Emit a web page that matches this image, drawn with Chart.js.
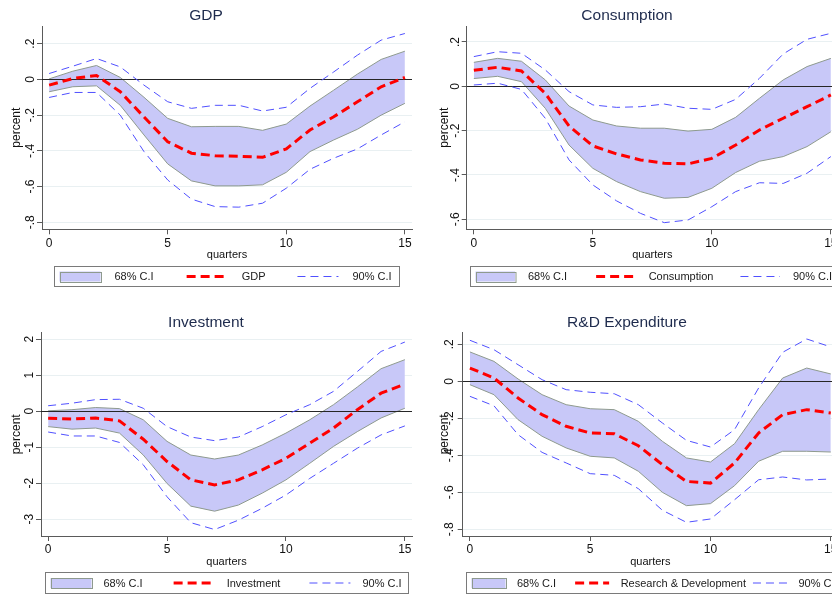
<!DOCTYPE html>
<html>
<head>
<meta charset="utf-8">
<script src="https://cdn.jsdelivr.net/npm/chart.js@4.4.1/dist/chart.umd.min.js"></script>
<style>
  html, body { margin: 0; padding: 0; background: #ffffff; width: 832px; height: 594px; overflow: hidden; position: relative; }
  canvas { position: absolute; }
</style>
</head>
<body>
<canvas id="gdp" width="416" height="297" style="left:0px;top:0px"></canvas>
<canvas id="cons" width="426" height="297" style="left:416px;top:0px"></canvas>
<canvas id="inv" width="416" height="297" style="left:0px;top:297px"></canvas>
<canvas id="rd" width="426" height="297" style="left:416px;top:297px"></canvas>
<script>
// Horizon in quarters
const quarters = [0, 1, 2, 3, 4, 5, 6, 7, 8, 9, 10, 11, 12, 13, 14, 15];
const xTickValues = [0, 5, 10, 15];

// y-axis ticks
const pctTickValues = [-0.8, -0.6, -0.4, -0.2, 0, 0.2];
const pctTickLabels = ['-.8', '-.6', '-.4', '-.2', '0', '.2'];
const consTickValues = [-0.6, -0.4, -0.2, 0, 0.2];
const consTickLabels = ['-.6', '-.4', '-.2', '0', '.2'];
const invTickValues = [-3, -2, -1, 0, 1, 2];
const invTickLabels = ['-3', '-2', '-1', '0', '1', '2'];

// GDP response
const gdpIrf  = [-0.032, 0.005, 0.022, -0.069, -0.210, -0.349, -0.413, -0.427, -0.430, -0.436, -0.389, -0.283, -0.209, -0.125, -0.041, 0.011];
const gdpHi68 = [0.003, 0.046, 0.078, 0.011, -0.100, -0.218, -0.265, -0.263, -0.263, -0.285, -0.250, -0.149, -0.060, 0.030, 0.112, 0.158];
const gdpLo68 = [-0.069, -0.041, -0.036, -0.145, -0.311, -0.473, -0.568, -0.596, -0.596, -0.590, -0.520, -0.404, -0.339, -0.279, -0.200, -0.134];
const gdpHi90 = [0.033, 0.074, 0.117, 0.070, -0.032, -0.125, -0.162, -0.145, -0.145, -0.177, -0.156, -0.050, 0.042, 0.136, 0.220, 0.257];
const gdpLo90 = [-0.101, -0.073, -0.073, -0.200, -0.404, -0.563, -0.670, -0.712, -0.715, -0.693, -0.609, -0.503, -0.441, -0.389, -0.311, -0.237];

// Consumption response
const consIrf  = [0.072, 0.086, 0.069, -0.032, -0.179, -0.269, -0.305, -0.332, -0.347, -0.350, -0.325, -0.265, -0.197, -0.144, -0.092, -0.039];
const consHi68 = [0.108, 0.126, 0.113, 0.029, -0.089, -0.152, -0.179, -0.189, -0.189, -0.202, -0.194, -0.140, -0.054, 0.029, 0.089, 0.126];
const consLo68 = [0.035, 0.045, 0.021, -0.099, -0.265, -0.370, -0.430, -0.475, -0.505, -0.501, -0.460, -0.389, -0.338, -0.317, -0.272, -0.205];
const consHi90 = [0.134, 0.156, 0.149, 0.074, -0.024, -0.084, -0.095, -0.092, -0.080, -0.099, -0.104, -0.059, 0.036, 0.146, 0.212, 0.239];
const consLo90 = [0.006, 0.014, -0.014, -0.144, -0.332, -0.445, -0.517, -0.573, -0.615, -0.603, -0.543, -0.475, -0.435, -0.438, -0.392, -0.317];

// Investment response
const invIrf  = [-0.20, -0.22, -0.19, -0.27, -0.78, -1.40, -1.91, -2.05, -1.91, -1.63, -1.31, -0.89, -0.47, 0.04, 0.50, 0.75];
const invHi68 = [0.01, 0.04, 0.10, 0.07, -0.24, -0.84, -1.22, -1.33, -1.22, -0.94, -0.61, -0.24, 0.18, 0.67, 1.18, 1.43];
const invLo68 = [-0.43, -0.50, -0.47, -0.61, -1.22, -2.01, -2.64, -2.78, -2.61, -2.28, -1.91, -1.45, -0.98, -0.57, -0.19, 0.08];
const invHi90 = [0.15, 0.22, 0.32, 0.33, 0.08, -0.43, -0.72, -0.82, -0.72, -0.43, -0.10, 0.18, 0.55, 1.10, 1.66, 1.92];
const invLo90 = [-0.58, -0.69, -0.69, -0.87, -1.49, -2.38, -3.10, -3.29, -3.03, -2.70, -2.33, -1.87, -1.45, -1.03, -0.66, -0.41];

// R&D expenditure response
const rdIrf  = [0.072, 0.018, -0.090, -0.180, -0.243, -0.279, -0.283, -0.348, -0.450, -0.541, -0.550, -0.441, -0.279, -0.180, -0.153, -0.171];
const rdHi68 = [0.159, 0.108, 0.013, -0.072, -0.126, -0.148, -0.153, -0.216, -0.324, -0.414, -0.436, -0.337, -0.153, 0.018, 0.072, 0.040];
const rdLo68 = [-0.018, -0.072, -0.207, -0.297, -0.360, -0.405, -0.414, -0.486, -0.600, -0.672, -0.661, -0.564, -0.432, -0.378, -0.378, -0.382];
const rdHi90 = [0.222, 0.171, 0.090, 0.009, -0.045, -0.059, -0.067, -0.126, -0.225, -0.319, -0.355, -0.261, -0.036, 0.157, 0.229, 0.186];
const rdLo90 = [-0.081, -0.132, -0.288, -0.384, -0.441, -0.499, -0.508, -0.580, -0.697, -0.762, -0.744, -0.640, -0.532, -0.517, -0.533, -0.528];

const FONT = "'Liberation Sans', Arial, Helvetica, sans-serif";
const TITLE_COLOR = '#1e2b4d';
const AXIS_COLOR = '#5a5a5a';
const GRID_COLOR = '#e9f0f2';
const TEXT_COLOR = '#111111';
const RED = '#ff0000';
const BLUE = '#5050ff';
const BAND_FILL = 'rgb(200,200,248)';
const BAND_EDGE = '#8e9a8e';

Chart.defaults.font.family = FONT;

const pts = arr => arr.map((v, i) => ({ x: quarters[i], y: v }));

// Horizontal reference line at zero, drawn above the confidence band
const zeroLine = {
  id: 'zeroLine',
  afterDatasetDraw(chart, args) {
    if (args.index !== 3) return;
    const { ctx, chartArea: a } = chart;
    const y = Math.round(chart.scales.y.getPixelForValue(0)) + 0.5;
    ctx.save();
    ctx.strokeStyle = '#262626';
    ctx.lineWidth = 1.2;
    ctx.beginPath();
    ctx.moveTo(a.left, y);
    ctx.lineTo(a.right, y);
    ctx.stroke();
    ctx.restore();
  }
};

// Boxed legend in one row below the x axis
const ciLegend = {
  id: 'ciLegend',
  afterDraw(chart, args, o) {
    const { ctx, chartArea: a } = chart;
    const ds = chart.data.datasets;
    const top = Math.round(a.bottom + o.offsetY) + 0.5;
    const left = Math.round(a.left + o.boxLeft) + 0.5;
    const cy = top + o.height / 2;
    ctx.save();
    ctx.strokeStyle = '#7a7a7a';
    ctx.lineWidth = 1;
    ctx.setLineDash([]);
    ctx.strokeRect(left, top, o.boxWidth, o.height);
    ctx.font = '11px ' + FONT;
    ctx.textBaseline = 'middle';
    ctx.textAlign = 'left';
    let x = left + 5;
    o.items.forEach((idx, i) => {
      const d = ds[idx];
      ctx.save();
      if (d.fill) {
        ctx.fillStyle = d.backgroundColor;
        ctx.fillRect(x, cy - 5, o.keyW, 10);
        ctx.strokeStyle = d.borderColor;
        ctx.lineWidth = 1;
        ctx.strokeRect(Math.round(x) + 0.5, Math.round(cy - 5) + 0.5, o.keyW, 10);
      } else {
        ctx.strokeStyle = d.borderColor;
        ctx.lineWidth = d.borderWidth;
        ctx.setLineDash(d.borderDash || []);
        ctx.beginPath();
        ctx.moveTo(x, cy);
        ctx.lineTo(x + o.keyW, cy);
        ctx.stroke();
      }
      ctx.restore();
      x += o.keyW + o.keyGap;
      ctx.fillStyle = '#1a1a1a';
      ctx.fillText(d.label, x, cy + 0.5);
      x += ctx.measureText(d.label).width + (o.gaps[i] || 0);
    });
    ctx.restore();
  }
};

function makePanel(id, p) {
  new Chart(document.getElementById(id), {
    type: 'line',
    data: {
      datasets: [
        { label: p.name, data: pts(p.irf), borderColor: RED, borderWidth: 3, borderDash: [9, 5], fill: false },
        { label: '90% C.I', data: pts(p.hi90), borderColor: BLUE, borderWidth: 1, borderDash: [8, 5], fill: false },
        { label: '90% C.I', data: pts(p.lo90), borderColor: BLUE, borderWidth: 1, borderDash: [8, 5], fill: false },
        { label: '68% C.I', data: pts(p.hi68), borderColor: BAND_EDGE, borderWidth: 1, fill: false },
        { label: '68% C.I', data: pts(p.lo68), borderColor: BAND_EDGE, borderWidth: 1, backgroundColor: BAND_FILL, fill: '-1' }
      ]
    },
    options: {
      responsive: false,
      animation: false,
      devicePixelRatio: 1,
      events: [],
      elements: { point: { radius: 0 }, line: { tension: 0 } },
      layout: { padding: p.pad },
      plugins: {
        legend: { display: false },
        tooltip: { enabled: false },
        title: {
          display: true, text: p.title, color: TITLE_COLOR,
          font: { size: 15.5, weight: 'normal', lineHeight: 1.2 },
          padding: p.titlePad
        },
        ciLegend: p.legend
      },
      scales: {
        x: {
          type: 'linear', min: -0.3, max: 15.3, bounds: 'data',
          afterBuildTicks: s => { s.ticks = xTickValues.map(v => ({ value: v })); },
          afterFit: s => { s.height = 34; },
          grid: { drawOnChartArea: false, drawTicks: true, tickLength: 5, tickColor: AXIS_COLOR },
          border: { display: true, color: AXIS_COLOR, width: 1 },
          ticks: { color: TEXT_COLOR, font: { size: 12 }, padding: 1.8, maxRotation: 0, autoSkip: false },
          title: { display: true, text: 'quarters', color: TEXT_COLOR, font: { size: 11 }, padding: { top: 0, bottom: 1.9 } }
        },
        y: {
          type: 'linear', min: p.yMin, max: p.yMax, bounds: 'data',
          afterBuildTicks: s => { s.ticks = p.yTicks.map(v => ({ value: v })); },
          afterFit: s => { s.width = p.yWidth; },
          grid: { drawOnChartArea: true, color: GRID_COLOR, lineWidth: 1, drawTicks: true, tickLength: 5, tickColor: AXIS_COLOR },
          border: { display: true, color: AXIS_COLOR, width: 1 },
          ticks: {
            callback: (v, i) => p.yLabels[i],
            minRotation: 90, maxRotation: 90, crossAlign: 'center', autoSkip: false,
            padding: p.yPad, color: TEXT_COLOR, font: { size: 12 }
          },
          title: { display: true, text: 'percent', color: TEXT_COLOR, font: { size: 12 }, padding: { top: p.yTitlePad, bottom: 0 } }
        }
      }
    },
    plugins: [zeroLine, ciLegend]
  });
}

makePanel('gdp', {
  title: 'GDP', name: 'GDP',
  irf: gdpIrf, hi68: gdpHi68, lo68: gdpLo68, hi90: gdpHi90, lo90: gdpLo90,
  yMin: -0.839, yMax: 0.299, yTicks: pctTickValues, yLabels: pctTickLabels,
  yWidth: 42, yPad: -1, yTitlePad: 9.8,
  pad: { left: 0, right: 4, top: 0, bottom: 33.7 },
  titlePad: { top: 6, bottom: 1.4 },
  legend: { items: [4, 0, 1], offsetY: 36.7, height: 20, boxLeft: 12, boxWidth: 345, keyW: 41, keyGap: 14, gaps: [33, 32] }
});

makePanel('cons', {
  title: 'Consumption', name: 'Consumption',
  irf: consIrf, hi68: consHi68, lo68: consLo68, hi90: consHi90, lo90: consLo90,
  yMin: -0.645, yMax: 0.272, yTicks: consTickValues, yLabels: consTickLabels,
  yWidth: 50.7, yPad: -1, yTitlePad: 21.8,
  pad: { left: 0, right: 4, top: 0, bottom: 33.7 },
  titlePad: { top: 6, bottom: 1.4 },
  legend: { items: [4, 0, 1], offsetY: 36.7, height: 20, boxLeft: 3.3, boxWidth: 366, keyW: 39.5, keyGap: 13, gaps: [29, 27] }
});

makePanel('inv', {
  title: 'Investment', name: 'Investment',
  irf: invIrf, hi68: invHi68, lo68: invLo68, hi90: invHi90, lo90: invLo90,
  yMin: -3.47, yMax: 2.18, yTicks: invTickValues, yLabels: invTickLabels,
  yWidth: 41, yPad: 0.7, yTitlePad: 9.8,
  pad: { left: 0, right: 4, top: 0, bottom: 24 },
  titlePad: { top: 16.2, bottom: 0.9 },
  legend: { items: [4, 0, 1], offsetY: 36, height: 21, boxLeft: 4, boxWidth: 363, keyW: 41, keyGap: 12, gaps: [31, 29] }
});

makePanel('rd', {
  title: 'R&D Expenditure', name: 'Research & Development',
  irf: rdIrf, hi68: rdHi68, lo68: rdLo68, hi90: rdHi90, lo90: rdLo90,
  yMin: -0.836, yMax: 0.263, yTicks: pctTickValues, yLabels: pctTickLabels,
  yWidth: 46.7, yPad: 1, yTitlePad: 21.8,
  pad: { left: 0, right: 4, top: 0, bottom: 24 },
  titlePad: { top: 16.2, bottom: 0.9 },
  legend: { items: [4, 0, 1], offsetY: 36, height: 21, boxLeft: 3.3, boxWidth: 370, keyW: 34, keyGap: 11.5, gaps: [19, 7] }
});
</script>
</body>
</html>
